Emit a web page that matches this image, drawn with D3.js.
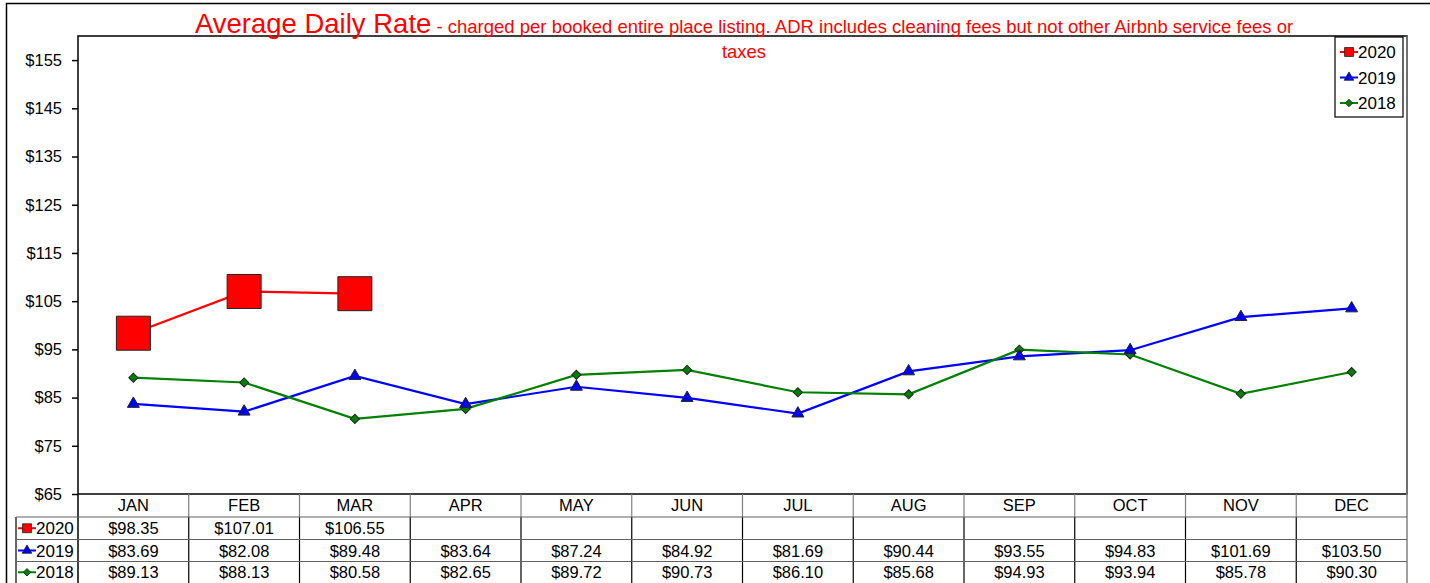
<!DOCTYPE html>
<html><head><meta charset="utf-8">
<script src="https://cdn.jsdelivr.net/npm/d3@7"></script>
<style>body{margin:0;background:#fff;}svg{display:block;font-family:"Liberation Sans",Arial,sans-serif;}</style>
</head><body>
<svg id="c" width="1430" height="583"></svg>
<script>
const months = ["JAN","FEB","MAR","APR","MAY","JUN","JUL","AUG","SEP","OCT","NOV","DEC"];
const s2020 = [98.35,107.01,106.55];
const s2019 = [83.69,82.08,89.48,83.64,87.24,84.92,81.69,90.44,93.55,94.83,101.69,103.50];
const s2018 = [89.13,88.13,80.58,82.65,89.72,90.73,86.10,85.68,94.93,93.94,85.78,90.30];
const yTicks = [65,75,85,95,105,115,125,135,145,155];
const seriesNames = ["2020","2019","2018"];

const series = [
  {name:"2020", values:s2020, color:"#ff0000", sym:d3.symbolSquare, rot:0},
  {name:"2019", values:s2019, color:"#0000ff", sym:d3.symbolTriangle, rot:0},
  {name:"2018", values:s2018, color:"#008000", sym:d3.symbolSquare, rot:45}
];

const svg = d3.select("#c");
const L=78, R=1407, T=36, B=494;
const x = d3.scaleBand().domain(months).range([L,R]);
const y = d3.scaleLinear().domain([65,160]).range([B,T]);

// outer border
svg.append("path").attr("d","M6.5,583 V3.5 H1430").attr("fill","none").attr("stroke","#000").attr("stroke-width",1.5);

// plot frame
svg.append("rect").attr("x",L).attr("y",T).attr("width",R-L).attr("height",B-T)
  .attr("fill","none").attr("stroke","#000").attr("stroke-width",1.5);
svg.append("line").attr("x1",R).attr("x2",R).attr("y1",T).attr("y2",583).attr("stroke","#808080").attr("stroke-width",1.5);

// y axis
const ya = svg.append("g").attr("transform",`translate(${L},0)`)
  .call(d3.axisLeft(y).tickValues(yTicks).tickFormat(d=>"$"+d).tickSize(6).tickPadding(10));
ya.select(".domain").remove();
ya.selectAll("line").attr("stroke","#000").attr("stroke-width",1.5);
ya.selectAll("text").attr("font-size",16.5).attr("fill","#000").attr("font-family","Liberation Sans, Arial, sans-serif");

// title
const title = svg.append("text").attr("text-anchor","middle").attr("fill","#ff0000");
title.append("tspan").attr("x",744).attr("y",33).attr("font-size",27.5).text("Average Daily Rate");
title.append("tspan").attr("font-size",18.5).text(" - charged per booked entire place listing. ADR includes cleaning fees but not other Airbnb service fees or");
svg.append("text").attr("x",744).attr("y",58).attr("text-anchor","middle").attr("fill","#ff0000").attr("font-size",18.5).text("taxes");

// lines & markers
const cx = (i)=> x(months[i]) + x.bandwidth()/2;
const line = d3.line().x((d,i)=>cx(i)).y(d=>y(d));
const markerSize = {"2020":34*34, "2019":62, "2018":42};
series.forEach(s=>{
  svg.append("path").datum(s.values).attr("d",line).attr("fill","none")
    .attr("stroke",s.color).attr("stroke-width",2.2);
});
series.slice().reverse().forEach(s=>{
  svg.selectAll(null).data(s.values).enter().append("path")
    .attr("transform",(d,i)=>`translate(${cx(i)},${y(d)}) rotate(${s.rot})`)
    .attr("d",d3.symbol().type(s.sym).size(markerSize[s.name]))
    .attr("fill",s.color).attr("stroke","#222").attr("stroke-width",1);
});

// legend
const lg = svg.append("g");
lg.append("rect").attr("x",1335).attr("y",37).attr("width",68).attr("height",80)
  .attr("fill","#fff").attr("stroke","#000").attr("stroke-width",1.2);
const legSize = {"2020":80,"2019":40,"2018":28};
series.forEach((s,i)=>{
  const yy = 52 + i*25.5;
  lg.append("line").attr("x1",1340).attr("x2",1358).attr("y1",yy).attr("y2",yy).attr("stroke",s.color).attr("stroke-width",2);
  lg.append("path").attr("transform",`translate(1349,${yy}) rotate(${s.rot})`).attr("d",d3.symbol().type(s.sym).size(legSize[s.name]))
    .attr("fill",s.color).attr("stroke","#222").attr("stroke-width",0.8);
  lg.append("text").attr("x",1358).attr("y",yy+6).attr("font-size",17).attr("fill","#000").text(s.name);
});

// data table
const rowY = [494, 517, 539.5, 561.5, 583];
const tb = svg.append("g");
months.forEach(m=>{
  tb.append("text").attr("x",x(m)+x.bandwidth()/2).attr("y",511).attr("text-anchor","middle")
    .attr("font-size",16.5).attr("fill","#000").text(m);
});
months.forEach((m,i)=>{
  if(i===0) return;
  tb.append("line").attr("x1",x(m)).attr("x2",x(m)).attr("y1",B).attr("y2",517).attr("stroke","#808080").attr("stroke-width",1.2);
  tb.append("line").attr("x1",x(m)).attr("x2",x(m)).attr("y1",517).attr("y2",583).attr("stroke","#000").attr("stroke-width",1.2);
});
tb.append("line").attr("x1",L).attr("x2",L).attr("y1",B).attr("y2",583).attr("stroke","#000").attr("stroke-width",1.5);
tb.append("line").attr("x1",16).attr("x2",16).attr("y1",517).attr("y2",583).attr("stroke","#000").attr("stroke-width",1.2);
[517,539.5,561.5].forEach(yy=>{
  tb.append("line").attr("x1",16).attr("x2",R).attr("y1",yy).attr("y2",yy).attr("stroke","#606060").attr("stroke-width",1.2);
});
series.forEach((s,r)=>{
  const yc = (rowY[r+1]+rowY[r+2])/2;
  tb.append("line").attr("x1",18).attr("x2",36).attr("y1",yc).attr("y2",yc).attr("stroke",s.color).attr("stroke-width",2);
  tb.append("path").attr("transform",`translate(27,${yc}) rotate(${s.rot})`).attr("d",d3.symbol().type(s.sym).size(legSize[s.name]))
    .attr("fill",s.color).attr("stroke","#222").attr("stroke-width",0.8);
  tb.append("text").attr("x",36).attr("y",yc+6).attr("font-size",17).attr("fill","#000").text(s.name);
  s.values.forEach((v,i)=>{
    tb.append("text").attr("x",cx(i)).attr("y",yc+6).attr("text-anchor","middle")
      .attr("font-size",16.5).attr("fill","#000").text("$"+v.toFixed(2));
  });
});
</script>
</body></html>
